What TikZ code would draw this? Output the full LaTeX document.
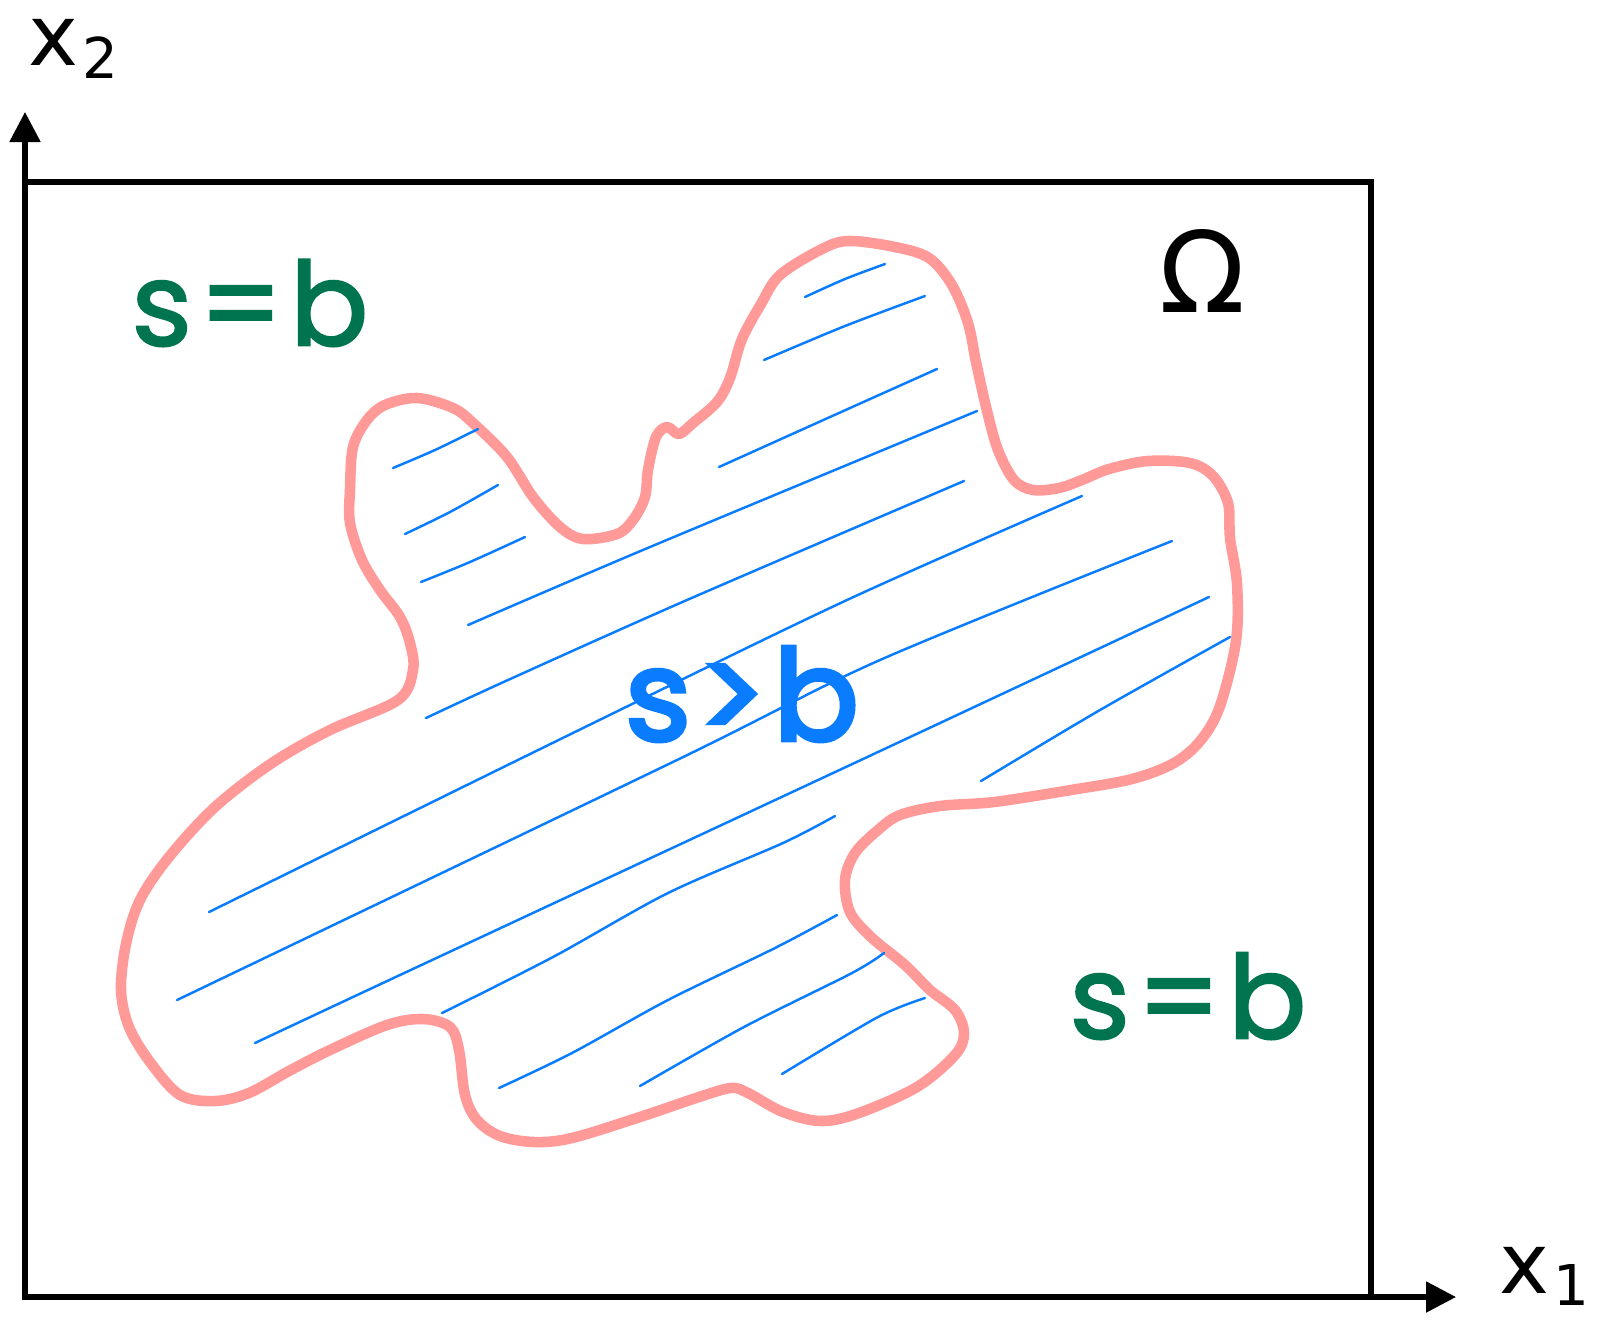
\documentclass[tikz,border=0pt]{standalone}
\usepackage{fontspec}
\setmainfont{DejaVu Sans}
\newfontfamily\handfont{Poppins}[FakeBold=1.8]
\newfontfamily\handbold{Poppins}[FakeBold=3.2]
\usetikzlibrary{arrows.meta}
\usepackage{xcolor}
\definecolor{blobpink}{HTML}{FF9A98}
\definecolor{hatchblue}{HTML}{0A7CFF}
\definecolor{labelgreen}{HTML}{00734F}

\begin{document}
\begin{tikzpicture}[
    x=0.01cm, y=-0.01cm,
    axis/.style={-{Triangle[length=3mm, width=3mm]}, line width=1.5pt, color=black},
    frame/.style={line width=1.5pt, color=black},
    blob/.style={line width=3pt, color=blobpink, line join=round},
    hatch/.style={line width=0.7pt, color=hatchblue, line cap=round},
    hand/.style={font=\handfont\fontsize{33}{38}\selectfont, inner sep=0pt},
    axlabel/.style={font=\fontsize{24}{28}\selectfont, inner sep=0pt, anchor=base west},
]
\useasboundingbox (0,0) rectangle (1609,1342);

% axes and domain
\coordinate (o) at (25,1297);
\coordinate (xend) at (1456,1297);
\coordinate (yend) at (25,112);
\coordinate (ne) at (1371,182);
\draw[frame] (o) rectangle (ne);
\draw[axis] (o) -- (xend);
\draw[axis] (o) -- (yend);
\node[axlabel] (xlab2) at (28,65) {x\kern1pt\raisebox{-3.7pt}{\fontsize{16}{16}\selectfont 2}};
\node[axlabel] (xlab1) at (1499,1293) {x\kern1pt\raisebox{-3.5pt}{\fontsize{16}{16}\selectfont 1}};
\node[font=\fontsize{32}{34}\selectfont, inner sep=0pt] (omega) at (1202,271) {Ω};

% region s>b
\draw[blob] plot[smooth cycle, tension=0.55] coordinates {
    (417,398) (453,408) (473,423) (507,457) (533,497) (560,527) (583,539) (617,534)
    (633,520) (645,497) (648,470) (656,437) (667,427) (679,434) (693,423) (717,402)
    (730,378) (742,339) (761,304) (780,275) (822,249) (849,241) (895,247) (929,258)
    (952,285) (968,323) (976,362) (987,411) (998,450) (1014,480) (1033,490) (1059,488)
    (1082,480) (1109,469) (1148,461) (1190,463) (1213,476) (1228,503) (1230,538) (1237,584)
    (1236,641) (1220,706) (1201,740) (1174,763) (1132,779) (1071,790) (994,802) (940,806)
    (900,815) (878,830) (855,853) (845,880) (850,912) (871,937) (905,965) (930,990)
    (955,1010) (964,1033) (955,1055) (917,1087) (859,1113) (821,1121) (783,1112) (748,1093)
    (731,1088) (699,1097) (640,1117) (572,1138) (534,1142) (500,1136) (477,1120) (465,1095)
    (459,1050) (450,1027) (423,1019) (387,1025) (330,1050) (289,1071) (249,1093) (215,1101)
    (180,1095) (150,1062) (129,1027) (121,990) (126,944) (140,900) (169,857) (215,807)
    (272,763) (330,730) (398,700) (413,670) (410,643) (400,617) (380,590) (362,560)
    (350,523) (350,490) (353,447) (367,420) (385,405)};

% hatching
\draw[hatch] plot[smooth] coordinates {(805,297) (845,279) (885,264)};
\draw[hatch] plot[smooth] coordinates {(764,360) (845,326) (925,296)};
\draw[hatch] plot[smooth] coordinates {(719,467) (830,417) (937,369)};
\draw[hatch] plot[smooth] coordinates {(393,468) (435,450) (478,429)};
\draw[hatch] plot[smooth] coordinates {(405,534) (450,512) (498,485)};
\draw[hatch] plot[smooth] coordinates {(421,582) (470,562) (525,537)};
\draw[hatch] plot[smooth] coordinates {(468,625) (650,547) (977,411)};
\draw[hatch] plot[smooth] coordinates {(426,718) (508,680) (687,600) (964,481)};
\draw[hatch] plot[smooth] coordinates {(209,912) (579,730) (847,600) (1082,496)};
\draw[hatch] plot[smooth] coordinates {(177,1000) (677,760) (880,660) (1172,541)};
\draw[hatch] plot[smooth] coordinates {(255,1043) (400,975) (878,752) (1209,597)};
\draw[hatch] plot[smooth] coordinates {(442,1013) (553,957) (668,893) (783,843) (835,816)};
\draw[hatch] plot[smooth] coordinates {(499,1088) (572,1053) (668,1000) (775,948) (837,915)};
\draw[hatch] plot[smooth] coordinates {(640,1086) (744,1027) (852,973) (884,953)};
\draw[hatch] plot[smooth] coordinates {(782,1074) (878,1017) (925,998)};
\draw[hatch] plot[smooth] coordinates {(981,781) (1100,710) (1230,637)};

% labels
\node[hand, color=labelgreen] (sb1) at (250,303) {s\kern2pt=\kern2pt b};
\node[hand, color=labelgreen] (sb2) at (1188,996) {s\kern2pt=\kern2pt b};
\node[hand, color=hatchblue, font=\handbold\fontsize{36}{40}\selectfont] (sgtb) at (742,694) {s\kern2pt>\kern2pt b};
\end{tikzpicture}
\end{document}
